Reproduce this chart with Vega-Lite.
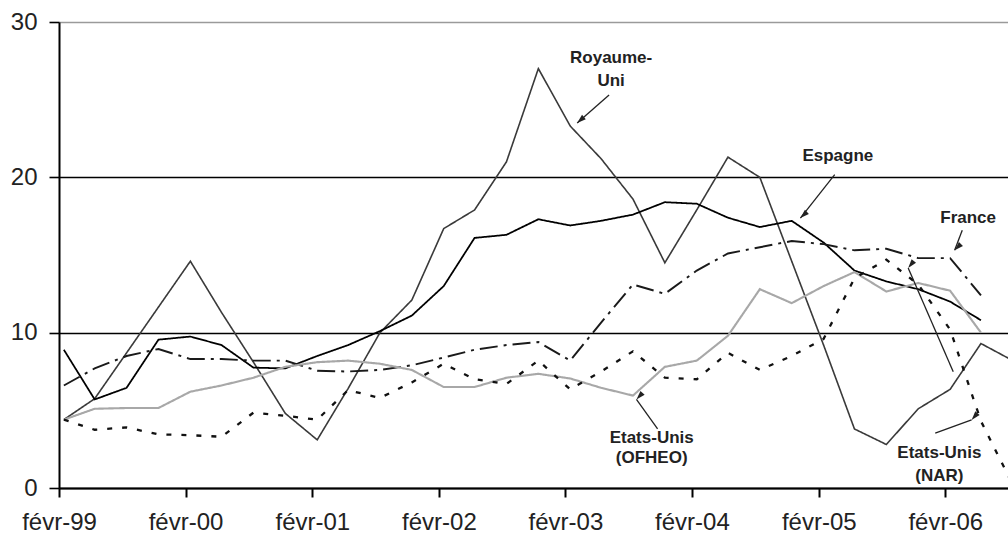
{
  "$schema": "https://vega.github.io/schema/vega-lite/v6.json",
  "width": 949,
  "height": 466,
  "autosize": {"type": "none"},
  "padding": {"left": 59, "top": 22, "right": 0, "bottom": 49},
  "background": "white",
  "config": {
    "view": {"stroke": null},
    "axis": {"labelFont": "Liberation Sans", "labelFontSize": 24, "labelColor": "#222", "title": null}
  },
  "datasets": {
    "series": [
      {"d": "1999-02-15", "s": "Royaume-Uni", "v": 4.4},
      {"d": "1999-05-15", "s": "Royaume-Uni", "v": 5.75},
      {"d": "1999-08-15", "s": "Royaume-Uni", "v": 8.7},
      {"d": "1999-11-15", "s": "Royaume-Uni", "v": 11.65},
      {"d": "2000-02-15", "s": "Royaume-Uni", "v": 14.6},
      {"d": "2000-05-15", "s": "Royaume-Uni", "v": 11.3},
      {"d": "2000-08-15", "s": "Royaume-Uni", "v": 8.1},
      {"d": "2000-11-15", "s": "Royaume-Uni", "v": 4.8},
      {"d": "2001-02-15", "s": "Royaume-Uni", "v": 3.1},
      {"d": "2001-05-15", "s": "Royaume-Uni", "v": 6.4},
      {"d": "2001-08-15", "s": "Royaume-Uni", "v": 10.0},
      {"d": "2001-11-15", "s": "Royaume-Uni", "v": 12.1},
      {"d": "2002-02-15", "s": "Royaume-Uni", "v": 16.7},
      {"d": "2002-05-15", "s": "Royaume-Uni", "v": 17.9},
      {"d": "2002-08-15", "s": "Royaume-Uni", "v": 21.0},
      {"d": "2002-11-15", "s": "Royaume-Uni", "v": 27.0},
      {"d": "2003-02-15", "s": "Royaume-Uni", "v": 23.3},
      {"d": "2003-05-15", "s": "Royaume-Uni", "v": 21.2},
      {"d": "2003-08-15", "s": "Royaume-Uni", "v": 18.6},
      {"d": "2003-11-15", "s": "Royaume-Uni", "v": 14.5},
      {"d": "2004-02-15", "s": "Royaume-Uni", "v": 17.9},
      {"d": "2004-05-15", "s": "Royaume-Uni", "v": 21.3},
      {"d": "2004-08-15", "s": "Royaume-Uni", "v": 20.0},
      {"d": "2004-11-15", "s": "Royaume-Uni", "v": 14.6},
      {"d": "2005-02-15", "s": "Royaume-Uni", "v": 9.2},
      {"d": "2005-05-15", "s": "Royaume-Uni", "v": 3.8},
      {"d": "2005-08-15", "s": "Royaume-Uni", "v": 2.8},
      {"d": "2005-11-15", "s": "Royaume-Uni", "v": 5.1},
      {"d": "2006-02-15", "s": "Royaume-Uni", "v": 6.35},
      {"d": "2006-05-15", "s": "Royaume-Uni", "v": 9.3},
      {"d": "2006-08-15", "s": "Royaume-Uni", "v": 8.2},

      {"d": "1999-02-15", "s": "Espagne", "v": 8.9},
      {"d": "1999-05-15", "s": "Espagne", "v": 5.7},
      {"d": "1999-08-15", "s": "Espagne", "v": 6.45},
      {"d": "1999-11-15", "s": "Espagne", "v": 9.55},
      {"d": "2000-02-15", "s": "Espagne", "v": 9.75},
      {"d": "2000-05-15", "s": "Espagne", "v": 9.2},
      {"d": "2000-08-15", "s": "Espagne", "v": 7.75},
      {"d": "2000-11-15", "s": "Espagne", "v": 7.7},
      {"d": "2001-02-15", "s": "Espagne", "v": 8.5},
      {"d": "2001-05-15", "s": "Espagne", "v": 9.2},
      {"d": "2001-08-15", "s": "Espagne", "v": 10.1},
      {"d": "2001-11-15", "s": "Espagne", "v": 11.1},
      {"d": "2002-02-15", "s": "Espagne", "v": 13.0},
      {"d": "2002-05-15", "s": "Espagne", "v": 16.1},
      {"d": "2002-08-15", "s": "Espagne", "v": 16.3},
      {"d": "2002-11-15", "s": "Espagne", "v": 17.3},
      {"d": "2003-02-15", "s": "Espagne", "v": 16.9},
      {"d": "2003-05-15", "s": "Espagne", "v": 17.2},
      {"d": "2003-08-15", "s": "Espagne", "v": 17.6},
      {"d": "2003-11-15", "s": "Espagne", "v": 18.4},
      {"d": "2004-02-15", "s": "Espagne", "v": 18.3},
      {"d": "2004-05-15", "s": "Espagne", "v": 17.4},
      {"d": "2004-08-15", "s": "Espagne", "v": 16.8},
      {"d": "2004-11-15", "s": "Espagne", "v": 17.2},
      {"d": "2005-02-15", "s": "Espagne", "v": 15.8},
      {"d": "2005-05-15", "s": "Espagne", "v": 14.0},
      {"d": "2005-08-15", "s": "Espagne", "v": 13.3},
      {"d": "2005-11-15", "s": "Espagne", "v": 12.8},
      {"d": "2006-02-15", "s": "Espagne", "v": 12.0},
      {"d": "2006-05-15", "s": "Espagne", "v": 10.8},

      {"d": "1999-02-15", "s": "France", "v": 6.6},
      {"d": "1999-05-15", "s": "France", "v": 7.7},
      {"d": "1999-08-15", "s": "France", "v": 8.5},
      {"d": "1999-11-15", "s": "France", "v": 8.95},
      {"d": "2000-02-15", "s": "France", "v": 8.3},
      {"d": "2000-05-15", "s": "France", "v": 8.3},
      {"d": "2000-08-15", "s": "France", "v": 8.2},
      {"d": "2000-11-15", "s": "France", "v": 8.2},
      {"d": "2001-02-15", "s": "France", "v": 7.55},
      {"d": "2001-05-15", "s": "France", "v": 7.5},
      {"d": "2001-08-15", "s": "France", "v": 7.6},
      {"d": "2001-11-15", "s": "France", "v": 7.9},
      {"d": "2002-02-15", "s": "France", "v": 8.4},
      {"d": "2002-05-15", "s": "France", "v": 8.9},
      {"d": "2002-08-15", "s": "France", "v": 9.2},
      {"d": "2002-11-15", "s": "France", "v": 9.4},
      {"d": "2003-02-15", "s": "France", "v": 8.2},
      {"d": "2003-05-15", "s": "France", "v": 10.65},
      {"d": "2003-08-15", "s": "France", "v": 13.1},
      {"d": "2003-11-15", "s": "France", "v": 12.5},
      {"d": "2004-02-15", "s": "France", "v": 14.0},
      {"d": "2004-05-15", "s": "France", "v": 15.1},
      {"d": "2004-08-15", "s": "France", "v": 15.5},
      {"d": "2004-11-15", "s": "France", "v": 15.9},
      {"d": "2005-02-15", "s": "France", "v": 15.7},
      {"d": "2005-05-15", "s": "France", "v": 15.3},
      {"d": "2005-08-15", "s": "France", "v": 15.4},
      {"d": "2005-11-15", "s": "France", "v": 14.8},
      {"d": "2006-02-15", "s": "France", "v": 14.8},
      {"d": "2006-05-15", "s": "France", "v": 12.4},

      {"d": "1999-02-15", "s": "Etats-Unis (OFHEO)", "v": 4.4},
      {"d": "1999-05-15", "s": "Etats-Unis (OFHEO)", "v": 5.1},
      {"d": "1999-08-15", "s": "Etats-Unis (OFHEO)", "v": 5.15},
      {"d": "1999-11-15", "s": "Etats-Unis (OFHEO)", "v": 5.15},
      {"d": "2000-02-15", "s": "Etats-Unis (OFHEO)", "v": 6.2},
      {"d": "2000-05-15", "s": "Etats-Unis (OFHEO)", "v": 6.6},
      {"d": "2000-08-15", "s": "Etats-Unis (OFHEO)", "v": 7.1},
      {"d": "2000-11-15", "s": "Etats-Unis (OFHEO)", "v": 7.8},
      {"d": "2001-02-15", "s": "Etats-Unis (OFHEO)", "v": 8.1},
      {"d": "2001-05-15", "s": "Etats-Unis (OFHEO)", "v": 8.2},
      {"d": "2001-08-15", "s": "Etats-Unis (OFHEO)", "v": 8.0},
      {"d": "2001-11-15", "s": "Etats-Unis (OFHEO)", "v": 7.6},
      {"d": "2002-02-15", "s": "Etats-Unis (OFHEO)", "v": 6.5},
      {"d": "2002-05-15", "s": "Etats-Unis (OFHEO)", "v": 6.5},
      {"d": "2002-08-15", "s": "Etats-Unis (OFHEO)", "v": 7.1},
      {"d": "2002-11-15", "s": "Etats-Unis (OFHEO)", "v": 7.35},
      {"d": "2003-02-15", "s": "Etats-Unis (OFHEO)", "v": 7.05},
      {"d": "2003-05-15", "s": "Etats-Unis (OFHEO)", "v": 6.45},
      {"d": "2003-08-15", "s": "Etats-Unis (OFHEO)", "v": 5.95},
      {"d": "2003-11-15", "s": "Etats-Unis (OFHEO)", "v": 7.8},
      {"d": "2004-02-15", "s": "Etats-Unis (OFHEO)", "v": 8.2},
      {"d": "2004-05-15", "s": "Etats-Unis (OFHEO)", "v": 9.8},
      {"d": "2004-08-15", "s": "Etats-Unis (OFHEO)", "v": 12.8},
      {"d": "2004-11-15", "s": "Etats-Unis (OFHEO)", "v": 11.9},
      {"d": "2005-02-15", "s": "Etats-Unis (OFHEO)", "v": 13.0},
      {"d": "2005-05-15", "s": "Etats-Unis (OFHEO)", "v": 13.9},
      {"d": "2005-08-15", "s": "Etats-Unis (OFHEO)", "v": 12.65},
      {"d": "2005-11-15", "s": "Etats-Unis (OFHEO)", "v": 13.2},
      {"d": "2006-02-15", "s": "Etats-Unis (OFHEO)", "v": 12.7},
      {"d": "2006-05-15", "s": "Etats-Unis (OFHEO)", "v": 10.0},

      {"d": "1999-02-15", "s": "Etats-Unis (NAR)", "v": 4.4},
      {"d": "1999-05-15", "s": "Etats-Unis (NAR)", "v": 3.75},
      {"d": "1999-08-15", "s": "Etats-Unis (NAR)", "v": 3.9},
      {"d": "1999-11-15", "s": "Etats-Unis (NAR)", "v": 3.45},
      {"d": "2000-02-15", "s": "Etats-Unis (NAR)", "v": 3.4},
      {"d": "2000-05-15", "s": "Etats-Unis (NAR)", "v": 3.3},
      {"d": "2000-08-15", "s": "Etats-Unis (NAR)", "v": 4.85},
      {"d": "2000-11-15", "s": "Etats-Unis (NAR)", "v": 4.65},
      {"d": "2001-02-15", "s": "Etats-Unis (NAR)", "v": 4.4},
      {"d": "2001-05-15", "s": "Etats-Unis (NAR)", "v": 6.3},
      {"d": "2001-08-15", "s": "Etats-Unis (NAR)", "v": 5.8},
      {"d": "2001-11-15", "s": "Etats-Unis (NAR)", "v": 6.8},
      {"d": "2002-02-15", "s": "Etats-Unis (NAR)", "v": 8.0},
      {"d": "2002-05-15", "s": "Etats-Unis (NAR)", "v": 7.0},
      {"d": "2002-08-15", "s": "Etats-Unis (NAR)", "v": 6.7},
      {"d": "2002-11-15", "s": "Etats-Unis (NAR)", "v": 8.2},
      {"d": "2003-02-15", "s": "Etats-Unis (NAR)", "v": 6.35},
      {"d": "2003-05-15", "s": "Etats-Unis (NAR)", "v": 7.5},
      {"d": "2003-08-15", "s": "Etats-Unis (NAR)", "v": 8.8},
      {"d": "2003-11-15", "s": "Etats-Unis (NAR)", "v": 7.1},
      {"d": "2004-02-15", "s": "Etats-Unis (NAR)", "v": 7.0},
      {"d": "2004-05-15", "s": "Etats-Unis (NAR)", "v": 8.7},
      {"d": "2004-08-15", "s": "Etats-Unis (NAR)", "v": 7.6},
      {"d": "2004-11-15", "s": "Etats-Unis (NAR)", "v": 8.5},
      {"d": "2005-02-15", "s": "Etats-Unis (NAR)", "v": 9.6},
      {"d": "2005-05-15", "s": "Etats-Unis (NAR)", "v": 13.5},
      {"d": "2005-08-15", "s": "Etats-Unis (NAR)", "v": 14.7},
      {"d": "2005-11-15", "s": "Etats-Unis (NAR)", "v": 13.1},
      {"d": "2006-02-15", "s": "Etats-Unis (NAR)", "v": 10.2},
      {"d": "2006-05-15", "s": "Etats-Unis (NAR)", "v": 4.3},
      {"d": "2006-08-15", "s": "Etats-Unis (NAR)", "v": 0.2}
    ],
    "notes": [
      {"d": "2003-06-13", "v": 27.7, "t": "Royaume-"},
      {"d": "2003-06-13", "v": 26.2, "t": "Uni"},
      {"d": "2005-03-28", "v": 21.35, "t": "Espagne"},
      {"d": "2006-04-08", "v": 17.38, "t": "France"},
      {"d": "2003-10-08", "v": 3.25, "t": "Etats-Unis"},
      {"d": "2003-10-08", "v": 1.92, "t": "(OFHEO)"},
      {"d": "2006-01-15", "v": 2.27, "t": "Etats-Unis"},
      {"d": "2006-01-15", "v": 0.77, "t": "(NAR)"}
    ],
    "arrows": [
      {"n": "uk", "d1": "2003-06-07", "v1": 25.3, "d2": "2003-03-07", "v2": 23.5},
      {"n": "es", "d1": "2005-03-19", "v1": 20.17, "d2": "2004-12-10", "v2": 17.38},
      {"n": "fr", "d1": "2006-03-22", "v1": 16.6, "d2": "2006-02-28", "v2": 15.3},
      {"n": "ofheo", "d1": "2003-10-25", "v1": 3.8, "d2": "2003-08-25", "v2": 5.7},
      {"n": "nar", "d1": "2006-01-03", "v1": 3.53, "d2": "2006-04-18", "v2": 4.38},
      {"n": "long", "d1": "2006-02-24", "v1": 7.49, "d2": "2005-10-17", "v2": 14.16}
    ]
  },
  "layer": [
    {
      "data": {"name": "series"},
      "mark": {"type": "line", "clip": true, "strokeCap": "butt"},
      "encoding": {
        "x": {
          "field": "d", "type": "temporal",
          "scale": {"type": "utc", "domain": [{"year": 1999, "month": 2, "date": 1, "utc": true}, {"year": 2006, "month": 8, "date": 1, "utc": true}]},
          "axis": {
            "values": [
              {"year": 1999, "month": 2, "date": 1, "utc": true},
              {"year": 2000, "month": 2, "date": 1, "utc": true},
              {"year": 2001, "month": 2, "date": 1, "utc": true},
              {"year": 2002, "month": 2, "date": 1, "utc": true},
              {"year": 2003, "month": 2, "date": 1, "utc": true},
              {"year": 2004, "month": 2, "date": 1, "utc": true},
              {"year": 2005, "month": 2, "date": 1, "utc": true},
              {"year": 2006, "month": 2, "date": 1, "utc": true}
            ],
            "labelExpr": "'févr-' + utcFormat(datum.value, '%y')",
            "grid": false,
            "domainColor": "black", "domainWidth": 2,
            "tickColor": "black", "tickWidth": 2, "tickSize": 9,
            "labelPadding": 13, "labelDx": 5, "labelFlush": false, "labelOverlap": false
          }
        },
        "y": {
          "field": "v", "type": "quantitative",
          "scale": {"domain": [0, 30], "nice": false, "zero": true},
          "axis": {
            "values": [0, 10, 20, 30],
            "grid": true,
            "gridColor": {"condition": {"test": "datum.value == 30", "value": "#9a9a9a"}, "value": "black"},
            "gridWidth": 1.6,
            "domainColor": "black", "domainWidth": 2,
            "tickColor": "black", "tickWidth": 1.6, "tickSize": 10,
            "labelPadding": 12, "labelFlush": false, "labelBaseline": "middle"
          }
        },
        "color": {
          "field": "s", "type": "nominal", "legend": null,
          "scale": {"domain": ["Royaume-Uni", "Espagne", "France", "Etats-Unis (OFHEO)", "Etats-Unis (NAR)"],
                    "range": ["#3a3a3a", "#000000", "#1a1a1a", "#a8a8a8", "#111111"]}
        },
        "strokeWidth": {
          "field": "s", "type": "nominal", "legend": null,
          "scale": {"domain": ["Royaume-Uni", "Espagne", "France", "Etats-Unis (OFHEO)", "Etats-Unis (NAR)"],
                    "range": [1.6, 2.3, 2.4, 2.0, 3.0]}
        },
        "strokeDash": {
          "field": "s", "type": "nominal", "legend": null,
          "scale": {"domain": ["Royaume-Uni", "Espagne", "France", "Etats-Unis (OFHEO)", "Etats-Unis (NAR)"],
                    "range": [[1, 0], [1, 0], [18, 6, 3, 6], [1, 0], [5, 10]]}
        }
      }
    },
    {
      "data": {"name": "arrows"},
      "mark": {"type": "rule", "color": "#222", "strokeWidth": 1.3},
      "encoding": {
        "x": {"field": "d1", "type": "temporal"},
        "y": {"field": "v1", "type": "quantitative"},
        "x2": {"field": "d2"},
        "y2": {"field": "v2"}
      }
    },
    {
      "data": {"name": "arrows"},
      "mark": {"type": "point", "filled": true, "color": "#222", "opacity": 1, "shape": "M0,0L0.6,1.9L-0.6,1.9Z", "size": 90},
      "encoding": {
        "x": {"field": "d2", "type": "temporal"},
        "y": {"field": "v2", "type": "quantitative"},
        "angle": {
          "field": "n", "type": "nominal", "legend": null,
          "scale": {"domain": ["uk", "es", "fr", "ofheo", "nar", "long"], "range": [228.5, 218.7, 201, 324.4, 69.1, 336.5]}
        }
      }
    },
    {
      "data": {"name": "notes"},
      "mark": {"type": "text", "font": "Liberation Sans", "fontWeight": "bold", "fontSize": 17, "color": "#222", "align": "center", "baseline": "middle"},
      "encoding": {
        "x": {"field": "d", "type": "temporal"},
        "y": {"field": "v", "type": "quantitative"},
        "text": {"field": "t"}
      }
    }
  ]
}
